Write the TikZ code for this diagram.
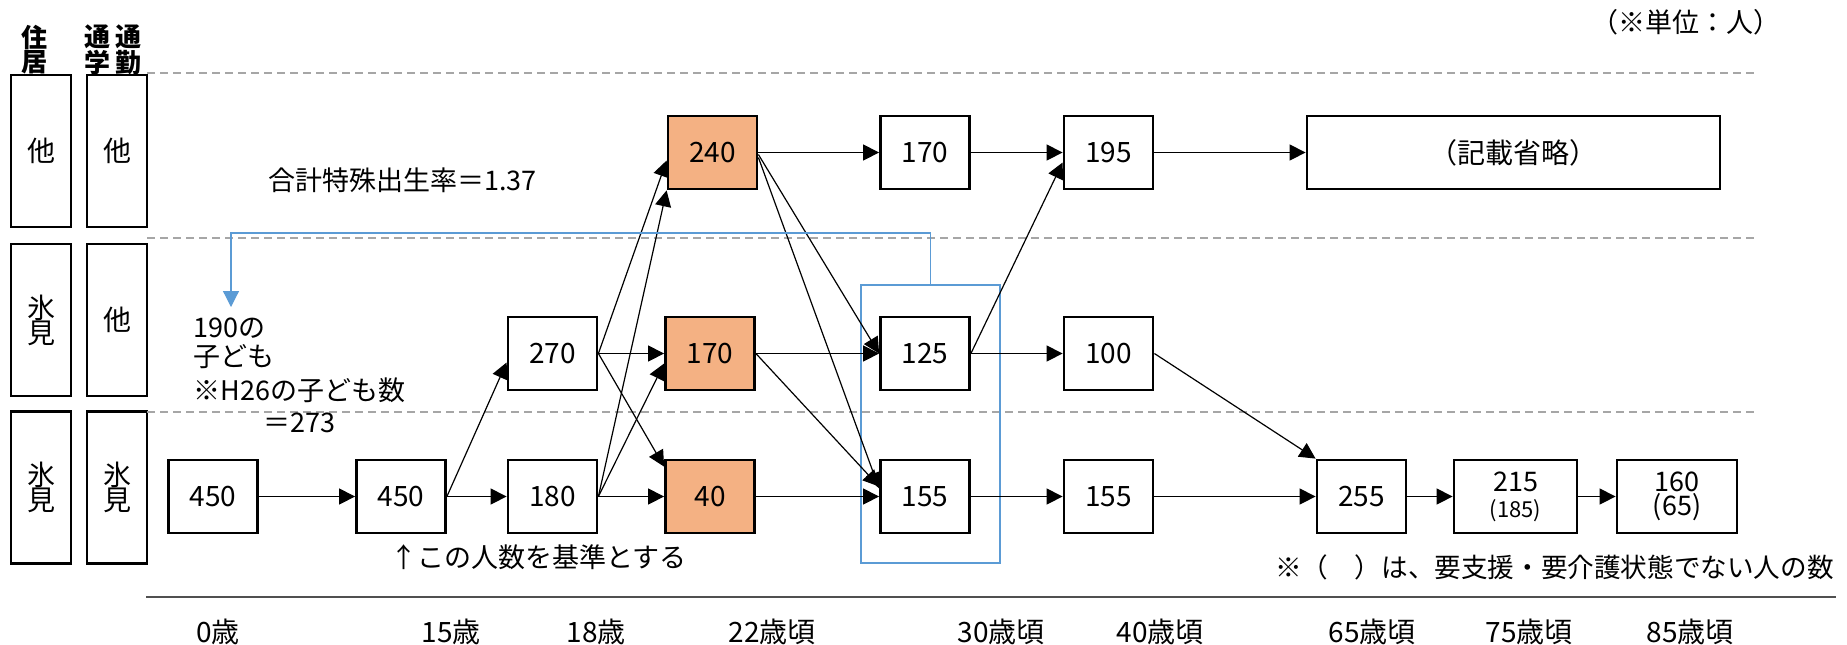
\documentclass[tikz,border=0pt]{standalone}
\usepackage{fontspec}
\setmainfont{Noto Sans CJK JP}
\usetikzlibrary{arrows.meta,calc}
\definecolor{boxorange}{HTML}{F4B183}
\definecolor{frameblue}{HTML}{5B9BD5}
\definecolor{dashgray}{HTML}{A6A6A6}
\definecolor{axisgray}{HTML}{505050}
\begin{document}
\begin{tikzpicture}[x=0.5pt,y=-0.5pt,
  numbox/.style={draw, line width=1.4pt, minimum width=44.5pt, minimum height=36.5pt, inner sep=0pt, fill=white, align=center, font=\fontsize{14}{14}\selectfont},
  orangebox/.style={numbox, fill=boxorange},
  sidebox/.style={draw, line width=1.4pt, minimum width=30pt, minimum height=76pt, inner sep=0pt, fill=white, align=center, font=\fontsize{14}{12.5}\selectfont},
  headtext/.style={inner sep=0pt, align=center, font=\fontsize{13}{12}\selectfont\bfseries},
  flow/.style={-{Triangle[length=8pt,width=8pt]}, line width=0.6pt},
  blueflow/.style={-{Triangle[length=8pt,width=8pt,fill=frameblue]}, line width=0.6pt, draw=frameblue},
  dashline/.style={draw=dashgray, line width=0.7pt, dash pattern=on 4pt off 2.5pt},
  label/.style={inner sep=0pt, font=\fontsize{13.5}{13.5}\selectfont},
  agelabel/.style={inner sep=0pt, font=\fontsize{14}{14}\selectfont}]
\useasboundingbox (0,0) rectangle (1847,644);

% headers
\node[headtext] (h1) at (34,50) {住\\居};
\node[headtext] (h2) at (97,50) {通\\学};
\node[headtext] (h3) at (128,50) {通\\勤};

% side boxes
\node[sidebox] (s11) at (41,151) {他};
\node[sidebox] (s12) at (117,151) {他};
\node[sidebox] (s21) at (41,320) {氷\\見};
\node[sidebox] (s22) at (117,320) {他};
\node[sidebox] (s31) at (41,487.5) {氷\\見};
\node[sidebox] (s32) at (117,487.5) {氷\\見};

% dashed separators
\draw[dashline] (147,73) -- (1758,73);
\draw[dashline] (147,238) -- (1758,238);
\draw[dashline] (147,412) -- (1758,412);

% axis
\draw[axisgray, line width=1pt] (146,597) -- (1836,597);

% blue frame
\node[draw=frameblue, line width=1.4pt, minimum width=69.5pt, minimum height=139pt, inner sep=0pt] (bluebox) at (930.5,424) {};
\coordinate (bluecorner) at (231,233);
\coordinate (bluetip) at (231,307);

% number boxes
\node[numbox] (n450a) at (213,496.5) {450};
\node[numbox] (n450b) at (401,496.5) {450};
\node[numbox] (n180) at (552.5,496.5) {180};
\node[numbox] (n270) at (552.5,353.5) {270};
\node[orangebox] (o240) at (712.5,152.5) {240};
\node[orangebox] (o170) at (710,353.5) {170};
\node[orangebox] (o40) at (710,496.5) {40};
\node[numbox] (w170) at (925,152.5) {170};
\node[numbox] (n125) at (925,353.5) {125};
\node[numbox] (n155) at (925,496.5) {155};
\node[numbox] (n195) at (1108.5,152.5) {195};
\node[numbox] (n100) at (1108.5,353.5) {100};
\node[numbox] (n155b) at (1108.5,496.5) {155};
\node[numbox, minimum width=206.5pt, font=\fontsize{14}{14}\selectfont] (omit) at (1513.5,152.5) {（記載省略）};
\node[numbox] (n255) at (1361.5,496.5) {255};
\node[numbox, minimum width=61.5pt, font=\fontsize{13.5}{13}\selectfont] (n215) at (1515.5,496.5) {215\\{\fontsize{11}{13}\selectfont (185)}};
\node[numbox, minimum width=60pt, font=\fontsize{13.5}{12}\selectfont] (n160) at (1677,496.5) {160\\(65)};

% connectors
\draw[flow] (n450a) -- (n450b);
\draw[flow] (n450b) -- (n180);
\draw[flow] (n450b.east) -- ($(n270.west)+(0,9)$);
\draw[flow] (n270) -- (o170);
\draw[flow] (n270.east) -- ($(o240.west)+(0,8)$);
\draw[flow] (n270.east) -- ($(o40.north west)+(0,8)$);
\draw[flow] (n180) -- (o40);
\draw[flow] (n180.east) -- ($(o170.west)+(0,10)$);
\draw[flow] (n180.east) -- (o240.south west);
\draw[flow] (o240) -- (w170);
\draw[flow] ($(o240.east)+(0,2)$) -- (n125.west);
\draw[flow] ($(o240.east)+(0,5)$) -- ($(n155.west)+(0,-8)$);
\draw[flow] (o170) -- (n125);
\draw[flow] (o170.east) -- ($(n155.west)+(0,-10)$);
\draw[flow] (o40) -- (n155);
\draw[flow] (w170) -- (n195);
\draw[flow] (n125.east) -- ($(n195.west)+(0,10)$);
\draw[flow] (n125) -- (n100);
\draw[flow] (n155) -- (n155b);
\draw[flow] (n195) -- (omit);
\draw[flow] (n100.east) -- (n255.north west);
\draw[flow] (n155b) -- (n255);
\draw[flow] (n255) -- (n215);
\draw[flow] (n215) -- (n160);

% blue connector
\draw[blueflow] (bluebox.north) |- (bluecorner) -- (bluetip);

% texts
\node[label, anchor=east] (unit) at (1781,22) {（※単位：人）};
\node[label, anchor=west] (tfr) at (268,180) {合計特殊出生率＝1.37};
\node[label, anchor=west] (c1) at (193,328) {190の};
\node[label, anchor=west] (c2) at (193,357) {子ども};
\node[label, anchor=west] (c3) at (193,390) {※H26の子ども数};
\node[label, anchor=west] (c4) at (263,423) {＝273};
\node[label, anchor=west] (base) at (390,557) {↑この人数を基準とする};
\node[label, anchor=east, font=\fontsize{13.3}{13.3}\selectfont] (note) at (1834,567) {※（　）は、要支援・要介護状態でない人の数};

% age axis labels
\node[agelabel] (a0) at (218,632) {0歳};
\node[agelabel] (a15) at (451,632) {15歳};
\node[agelabel] (a18) at (596,632) {18歳};
\node[agelabel] (a22) at (772,632) {22歳頃};
\node[agelabel] (a30) at (1001,632) {30歳頃};
\node[agelabel] (a40) at (1160,632) {40歳頃};
\node[agelabel] (a65) at (1372,632) {65歳頃};
\node[agelabel] (a75) at (1529,632) {75歳頃};
\node[agelabel] (a85) at (1690,632) {85歳頃};
\end{tikzpicture}
\end{document}
